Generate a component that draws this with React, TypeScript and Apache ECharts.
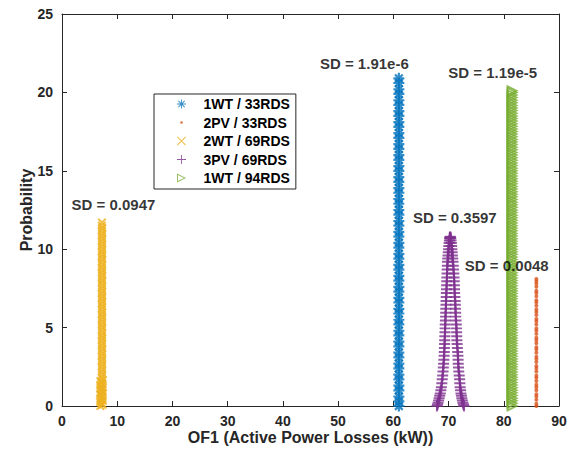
import React, { useEffect, useRef } from "react";
import * as echarts from "echarts";

const SERIES_NAMES = ["1WT / 33RDS", "2PV / 33RDS", "2WT / 69RDS", "3PV / 69RDS", "1WT / 94RDS"];
const COLORS = ["#0072BD", "#D95319", "#EDB120", "#7E2F8E", "#77AC30"];

// 1WT / 33RDS (SD ~ 0): constant x
const BLUE_X = 61.0;
const BLUE_Y = [0.0, 0.3, 0.6, 1.0, 1.3, 1.7, 2.0, 2.4, 2.7, 3.1, 3.4, 3.8, 4.1, 4.5, 4.8, 5.2, 5.5, 5.9, 6.2, 6.6, 6.9, 7.3, 7.6, 8.0, 8.3, 8.7, 9.0, 9.4, 9.7, 10.1, 10.4, 10.8, 11.1, 11.5, 11.8, 12.2, 12.5, 12.9, 13.2, 13.6, 13.9, 14.3, 14.6, 15.0, 15.3, 15.7, 16.0, 16.4, 16.7, 17.1, 17.4, 17.8, 18.1, 18.5, 18.8, 19.2, 19.5, 19.9, 20.2, 20.6, 20.9];

// 2PV / 33RDS
const ORANGE_X = 85.9;
const ORANGE_Y = [0.0, 0.15, 0.4, 0.6, 0.75, 1.0, 1.2, 1.35, 1.6, 1.8, 1.95, 2.2, 2.4, 2.55, 2.8, 3.0, 3.15, 3.4, 3.6, 3.75, 4.0, 4.2, 4.35, 4.6, 4.8, 4.95, 5.2, 5.4, 5.55, 5.8, 6.0, 6.15, 6.4, 6.6, 6.75, 7.0, 7.2, 7.35, 7.6, 7.8, 7.95, 8.1];

// 2WT / 69RDS
const YELLOW_POINTS = [
  [6.95, 0.0], [7.35, 0.08], [7.15, 0.17], [6.9, 0.25], [7.4, 0.34], [7.1, 0.42], [6.95, 0.5], [7.35, 0.59], [7.2, 0.67], [6.9, 0.76], [7.4, 0.84], [7.05, 0.92],
  [7.3, 1.0], [6.95, 1.09], [7.4, 1.17], [7.15, 1.25], [6.9, 1.34], [7.35, 1.42], [7.1, 1.5], [6.95, 1.59], [7.4, 1.67],
  [7.2, 1.84], [7.28, 2.0], [7.22, 2.17], [7.26, 2.34], [7.2, 2.5], [7.28, 2.67], [7.22, 2.84],
  [7.26, 3.0], [7.2, 3.17], [7.28, 3.34], [7.22, 3.5], [7.26, 3.67], [7.2, 3.84],
  [7.28, 4.0], [7.22, 4.17], [7.26, 4.34], [7.2, 4.5], [7.28, 4.67], [7.22, 4.84],
  [7.26, 5.0], [7.2, 5.17], [7.28, 5.34], [7.22, 5.5], [7.26, 5.67], [7.2, 5.84],
  [7.28, 6.0], [7.22, 6.17], [7.26, 6.34], [7.2, 6.5], [7.28, 6.67], [7.22, 6.84],
  [7.26, 7.0], [7.2, 7.17], [7.28, 7.34], [7.22, 7.5], [7.26, 7.67], [7.2, 7.84],
  [7.28, 8.0], [7.22, 8.17], [7.26, 8.34], [7.2, 8.5], [7.28, 8.67], [7.22, 8.84],
  [7.26, 9.0], [7.2, 9.17], [7.28, 9.34], [7.22, 9.5], [7.26, 9.67], [7.2, 9.84],
  [7.28, 10.0], [7.22, 10.17], [7.26, 10.34], [7.2, 10.5], [7.28, 10.67], [7.22, 10.84],
  [7.26, 11.0], [7.2, 11.17], [7.28, 11.34], [7.22, 11.5], [7.24, 11.7],
];

// 3PV / 69RDS
const PURPLE_POINTS = [
  [67.9, 0.0], [68.0, 0.1], [68.1, 0.2], [68.2, 0.35], [68.3, 0.5], [68.4, 0.65], [68.5, 0.8], [68.6, 1.0], [68.7, 1.2], [68.78, 1.45], [68.85, 1.7], [68.93, 1.95],
  [69.0, 2.2], [69.05, 2.45], [69.1, 2.7], [69.15, 2.95], [69.2, 3.2], [69.22, 3.45], [69.25, 3.7], [69.28, 3.95], [69.3, 4.2], [69.33, 4.45], [69.35, 4.7], [69.38, 4.95],
  [69.4, 5.2], [69.43, 5.45], [69.45, 5.7], [69.48, 5.95], [69.5, 6.2], [69.53, 6.45], [69.55, 6.7], [69.58, 6.95], [69.6, 7.2], [69.63, 7.45], [69.65, 7.7], [69.68, 7.95],
  [69.7, 8.2], [69.73, 8.45], [69.75, 8.7], [69.78, 8.95], [69.8, 9.2], [69.85, 9.4], [69.9, 9.6], [69.95, 9.8], [70.0, 10.0], [70.05, 10.2], [70.1, 10.4], [70.15, 10.55],
  [70.2, 10.7], [70.25, 10.75], [70.3, 10.8],
  [70.35, 10.75], [70.4, 10.7], [70.45, 10.55], [70.5, 10.4], [70.55, 10.2], [70.6, 10.0], [70.65, 9.8], [70.7, 9.6], [70.75, 9.4], [70.8, 9.2], [70.85, 8.95], [70.9, 8.7],
  [70.95, 8.45], [71.0, 8.2], [71.03, 7.95], [71.05, 7.7], [71.08, 7.45], [71.1, 7.2], [71.15, 6.95], [71.2, 6.7], [71.23, 6.45], [71.25, 6.2], [71.28, 5.95], [71.3, 5.7],
  [71.35, 5.45], [71.4, 5.2], [71.43, 4.95], [71.45, 4.7], [71.48, 4.45], [71.5, 4.2], [71.55, 3.95], [71.6, 3.7], [71.65, 3.45], [71.7, 3.2], [71.73, 2.95], [71.75, 2.7],
  [71.8, 2.45], [71.85, 2.2], [71.93, 1.95], [72.0, 1.7], [72.05, 1.45], [72.1, 1.2], [72.18, 1.0], [72.25, 0.8], [72.33, 0.65], [72.4, 0.5], [72.5, 0.35], [72.6, 0.2],
  [72.7, 0.1], [72.8, 0.0],
];

// 1WT / 94RDS
const GREEN_X = 81.6;
const GREEN_Y = [
  0.0, 0.17, 0.34, 0.5, 0.67, 0.84, 1.0, 1.17, 1.34, 1.5, 1.67, 1.84, 2.0, 2.17, 2.34, 2.5, 2.67, 2.84, 3.0, 3.17, 3.34, 3.5, 3.67, 3.84,
  4.0, 4.17, 4.34, 4.5, 4.67, 4.84, 5.0, 5.17, 5.34, 5.5, 5.67, 5.84, 6.0, 6.17, 6.34, 6.5, 6.67, 6.84, 7.0, 7.17, 7.34, 7.5, 7.67, 7.84,
  8.0, 8.17, 8.34, 8.5, 8.67, 8.84, 9.0, 9.17, 9.34, 9.5, 9.67, 9.84, 10.0, 10.17, 10.34, 10.5, 10.67, 10.84, 11.0, 11.17, 11.34, 11.5, 11.67, 11.84,
  12.0, 12.17, 12.34, 12.5, 12.67, 12.84, 13.0, 13.17, 13.34, 13.5, 13.67, 13.84, 14.0, 14.17, 14.34, 14.5, 14.67, 14.84, 15.0, 15.17, 15.34, 15.5, 15.67, 15.84,
  16.0, 16.17, 16.34, 16.5, 16.67, 16.84, 17.0, 17.17, 17.34, 17.5, 17.67, 17.84, 18.0, 18.17, 18.34, 18.5, 18.67, 18.84, 19.0, 19.17, 19.34, 19.5, 19.67, 19.84,
  20.0, 20.1,
];

// Annotations (text, anchored in data coordinates)
const SD_TEXTS = ["SD = 1.91e-6", "SD = 1.19e-5", "SD = 0.0947", "SD = 0.3597", "SD = 0.0048"];
const SD_ANCHORS = [[54.75, 21.84], [78.0, 21.3], [9.32, 12.88], [71.13, 12.02], [80.54, 8.99]];

const X_NAME = "OF1 (Active Power Losses (kW))";
const Y_NAME = "Probability";

const FONT = "'Liberation Sans', Arial, Helvetica, sans-serif";
const AXIS_COLOR = "#262626";

// marker shapes used for the data (heavier, to reproduce the dense clouds)
const ASTERISK = "path://M8,0H12V20H8Z M0,8H20V12H0Z M4.41,1.59L18.41,15.59L15.59,18.41L1.59,4.41Z M15.59,1.59L18.41,4.41L4.41,18.41L1.59,15.59Z";
const PLUS = "path://M8.2,0H11.8V8.2H20V11.8H11.8V20H8.2V11.8H0V8.2H8.2Z";
const CROSS = "path://M3.56,0.44L19.56,16.44L16.44,19.56L0.44,3.56Z M16.44,0.44L19.56,3.56L3.56,19.56L0.44,16.44Z";
const TRIANGLE = "path://M0,0L20,10L0,20Z M3,4.85L3,15.15L13.29,10Z";
// thin marker shapes used for the legend
const ASTERISK_THIN = "path://M9,0H11V20H9Z M0,9H20V11H0Z M3.7,2.3L17.7,16.3L16.3,17.7L2.3,3.7Z M16.3,2.3L17.7,3.7L3.7,17.7L2.3,16.3Z";
const PLUS_THIN = "path://M9,0H11V9H20V11H11V20H9V11H0V9H9Z";
const CROSS_THIN = "path://M2.9,1.5L18.5,17.1L17.1,18.5L1.5,2.9Z M17.1,1.5L18.5,2.9L2.9,18.5L1.5,17.1Z";
const TRIANGLE_THIN = "path://M0,0L20,10L0,20Z M2,3.24L2,16.76L15.53,10Z";
const DOT_ICON = "path://M0,0L0.01,0L0,0.01Z M20,20L19.99,20L20,19.99Z M7,10A3,3 0 1 1 13,10A3,3 0 1 1 7,10Z";

export default function App() {
  const ref = useRef<HTMLDivElement>(null);
  useEffect(() => {
    document.body.style.margin = "0";
    if (!ref.current) return;
    const chart = echarts.init(ref.current, null, { renderer: "svg" });

    const axisCommon = {
      type: "value" as const,
      axisLine: { show: true, onZero: false, lineStyle: { color: AXIS_COLOR, width: 1 } },
      axisTick: { show: true, inside: true, length: 5, lineStyle: { color: AXIS_COLOR, width: 1 } },
      splitLine: { show: false },
    };
    const labelStyle = { color: AXIS_COLOR, fontWeight: "bold" as const, fontSize: 14, fontFamily: FONT };
    const nameStyle = { color: AXIS_COLOR, fontWeight: "bold" as const, fontSize: 16, fontFamily: FONT };

    const scatterCommon = {
      type: "scatter" as const,
      clip: false,
      symbolKeepAspect: true,
      xAxisIndex: 0,
      yAxisIndex: 0,
    };

    const option = {
      animation: false,
      backgroundColor: "#ffffff",
      grid: { left: 62, right: 18, top: 14, bottom: 53, containLabel: false },
      xAxis: [
        {
          ...axisCommon, min: 0, max: 90, interval: 10, position: "bottom",
          axisLabel: { ...labelStyle, margin: 8 },
          name: X_NAME, nameLocation: "middle", nameGap: 23, nameMoveOverlap: false, nameTextStyle: nameStyle,
        },
        { ...axisCommon, min: 0, max: 90, interval: 10, position: "top", axisLabel: { show: false } },
      ],
      yAxis: [
        {
          ...axisCommon, min: 0, max: 25, interval: 5, position: "left",
          axisLabel: { ...labelStyle, margin: 9 },
          name: Y_NAME, nameLocation: "middle", nameGap: 28, nameMoveOverlap: false, nameTextStyle: nameStyle,
        },
        { ...axisCommon, min: 0, max: 25, interval: 5, position: "right", axisLabel: { show: false } },
      ],
      legend: {
        orient: "vertical",
        left: 154,
        top: 94,
        itemWidth: 34,
        itemHeight: 9,
        itemGap: 4.5,
        padding: [3, 6, 4, 23],
        borderColor: AXIS_COLOR,
        borderWidth: 1,
        backgroundColor: "#ffffff",
        symbolKeepAspect: true,
        textStyle: { color: "#000", fontWeight: "bold", fontSize: 14, fontFamily: FONT, lineHeight: 14 },
        data: [
          { name: SERIES_NAMES[0], icon: ASTERISK_THIN },
          { name: SERIES_NAMES[1], icon: DOT_ICON },
          { name: SERIES_NAMES[2], icon: CROSS_THIN },
          { name: SERIES_NAMES[3], icon: PLUS_THIN },
          { name: SERIES_NAMES[4], icon: TRIANGLE_THIN },
        ],
      },
      series: [
        {
          ...scatterCommon, name: SERIES_NAMES[0], symbol: ASTERISK, symbolSize: 11,
          itemStyle: { color: COLORS[0] },
          data: BLUE_Y.map((y) => [BLUE_X, y]),
        },
        {
          ...scatterCommon, name: SERIES_NAMES[1], symbol: "circle", symbolSize: 4,
          itemStyle: { color: COLORS[1] },
          data: ORANGE_Y.map((y) => [ORANGE_X, y]),
        },
        {
          ...scatterCommon, name: SERIES_NAMES[2], symbol: CROSS, symbolSize: 9,
          itemStyle: { color: COLORS[2] },
          data: YELLOW_POINTS,
        },
        {
          ...scatterCommon, name: SERIES_NAMES[3], symbol: PLUS, symbolSize: 11,
          itemStyle: { color: COLORS[3] },
          data: PURPLE_POINTS,
        },
        {
          ...scatterCommon, name: SERIES_NAMES[4], symbol: TRIANGLE, symbolSize: 12,
          itemStyle: { color: COLORS[4] },
          data: GREEN_Y.map((y) => [GREEN_X, y]),
        },
        {
          type: "scatter",
          name: "annotations",
          silent: true,
          clip: false,
          symbolSize: 1,
          itemStyle: { color: "rgba(0,0,0,0)" },
          label: {
            show: true,
            position: "inside",
            formatter: (p: any) => p.name,
            color: "#000",
            fontWeight: "bold",
            fontSize: 15,
            fontFamily: FONT,
          },
          z: 10,
          data: SD_TEXTS.map((t, i) => ({ name: t, value: SD_ANCHORS[i] })),
        },
      ],
    };
    chart.setOption(option as any);
    return () => chart.dispose();
  }, []);
  return <div ref={ref} style={{ width: 577, height: 459 }} />;
}
